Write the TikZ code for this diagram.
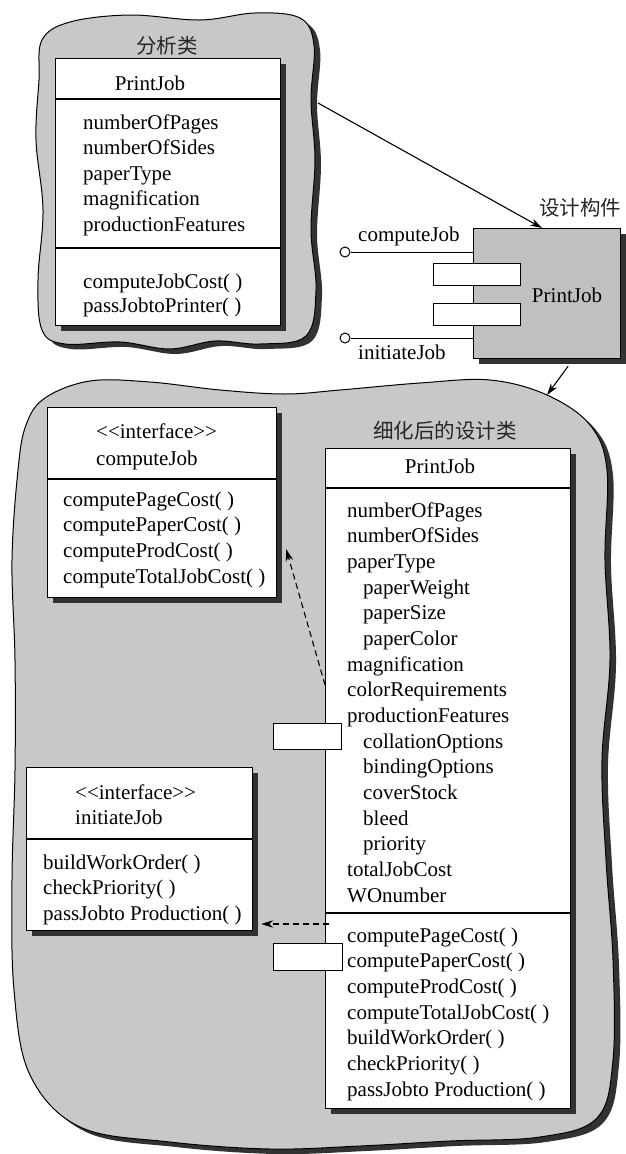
\documentclass[tikz,border=0pt]{standalone}
\usepackage{fontspec}
\setmainfont{Liberation Serif}
\newfontfamily\cjk{Noto Sans CJK SC}
\usetikzlibrary{arrows.meta,calc,shadows}
\definecolor{blobgray}{RGB}{200,200,200}
\definecolor{compgray}{RGB}{192,192,192}
\definecolor{shadowgray}{RGB}{50,50,50}
\newcommand\myind{\hspace*{16pt}}
\newcommand\stereo{<\kern0pt<interface>\kern0pt>}
\tikzset{
  blob/.style={fill=blobgray, draw=black, line width=1pt},
  blobshadow/.style={fill=shadowgray},
  boxshadow/.style={drop shadow={shadow xshift=5pt, shadow yshift=-5pt, fill=shadowgray, opacity=1}},
  classbox/.style={draw=black, fill=white, line width=1.2pt, inner sep=0pt, anchor=north west, boxshadow},
  portbox/.style={draw=black, fill=white, line width=1.1pt, inner sep=0pt, anchor=north west},
  txt/.style={anchor=base west, inner sep=0pt, font=\fontsize{21}{25}\selectfont},
  ctxt/.style={anchor=base, inner sep=0pt, font=\fontsize{21}{25}\selectfont},
  cn/.style={anchor=base, inner sep=0pt, font=\cjk\fontsize{20.5}{25}\selectfont, text=black!85},
  conn/.style={line width=1.1pt, -{Stealth[length=12pt,width=7.5pt]}},
  dconn/.style={line width=1.1pt, dash pattern=on 6pt off 4pt, -{Stealth[length=12pt,width=7.5pt]}},
  lolli/.style={circle, draw=black, fill=white, line width=1pt, minimum size=10pt, inner sep=0pt},
  sep/.style={line width=1.2pt}
}
\begin{document}
\begin{tikzpicture}[x=1pt,y=-1pt]
\useasboundingbox (0,0) rectangle (625,1154);

% ---------- top blob (analysis) ----------
\def\topblob{plot[smooth cycle, tension=0.6] coordinates {
 (42,40) (70,22) (130,15) (200,20) (255,13) (300,18) (314,45) (311,100) (315,160) (311,230) (316,290) (306,336) (260,344) (215,341) (170,349) (120,342) (65,344) (42,330) (38,280) (43,210) (36,140) (39,80)}}
\fill[blobshadow, shift={(6,5)}] \topblob;
\draw[blob] \topblob;

% ---------- lower blob (refined design) ----------
\def\lowblob{plot[smooth cycle, tension=0.6] coordinates {
 (45,398) (90,381) (150,382) (220,390) (285,394) (340,390) (420,383) (490,380) (547,395) (590,425) (607,470) (605,560) (610,660) (602,760) (606,860) (613,960) (613,1060) (597,1118) (540,1137) (450,1141) (360,1146) (270,1149) (170,1142) (80,1127) (30,1075) (14,990) (12,880) (15,770) (15,660) (12,560) (18,470) (26,425)}}
\fill[blobshadow, shift={(6,5)}] \lowblob;
\draw[blob] \lowblob;

% ---------- analysis class ----------
\node[cn] (antitle) at (167,53) {分析类};
\node[classbox, minimum width=225pt, minimum height=267pt] (an) at (55,58) {};
\draw[sep] ([yshift=-41pt]an.north west) -- ([yshift=-41pt]an.north east);
\draw[sep] ([yshift=-190pt]an.north west) -- ([yshift=-190pt]an.north east);
\node[ctxt] (anname) at (150,90) {PrintJob};
\foreach \t [count=\i] in {numberOfPages, numberOfSides, paperType, magnification, productionFeatures}
  \node[txt] (anat\i) at (83,{129+25.5*(\i-1)}) {\t};
\foreach \t [count=\i] in {computeJobCost( ), passJobtoPrinter( )}
  \node[txt] (anop\i) at (83,{288+24.5*(\i-1)}) {\t};

% ---------- design component ----------
\node[cn, anchor=base west] (comptitle) at (539,215) {设计构件};
\node[draw=black, fill=compgray, line width=1.2pt, inner sep=0pt, anchor=north west,
      minimum width=147pt, minimum height=130pt, boxshadow] (comp) at (473,228) {};
\node[ctxt] (compname) at (567,302) {PrintJob};
\node[portbox, minimum width=87pt, minimum height=22pt] (cp1) at (433,263) {};
\node[portbox, minimum width=87pt, minimum height=22pt] (cp2) at (433,303) {};
\node[lolli] (l1) at (345,252) {};
\node[lolli] (l2) at (345,338) {};
\draw[line width=1pt] (l1.east) -- (l1 -| comp.west);
\draw[line width=1pt] (l2.east) -- (l2 -| comp.west);
\node[txt] (l1lab) at (358,241) {computeJob};
\node[txt] (l2lab) at (358,359) {initiateJob};

% arrows between levels
\coordinate (topedge) at (318,103);
\draw[conn] (topedge) -- ($(comp.north west)+(69,0)$);
\coordinate (lowedge) at (547,395);
\draw[conn] ($(comp.south)+(21,7)$) -- (lowedge);

% ---------- refined design ----------
\node[cn] (dtitle) at (445,438) {细化后的设计类};

% interface computeJob
\node[classbox, minimum width=229pt, minimum height=190pt] (cj) at (47,407) {};
\draw[sep] ([yshift=-72pt]cj.north west) -- ([yshift=-72pt]cj.north east);
\node[txt] (cjst) at (96,438) {\stereo};
\node[txt] (cjname) at (96,465) {computeJob};
\foreach \t [count=\i] in {computePageCost( ), computePaperCost( ), computeProdCost( ), computeTotalJobCost( )}
  \node[txt] (cjop\i) at (63,{506+25.7*(\i-1)}) {\t};

% interface initiateJob
\node[classbox, minimum width=226pt, minimum height=163pt] (ij) at (26,767) {};
\draw[sep] ([yshift=-72pt]ij.north west) -- ([yshift=-72pt]ij.north east);
\node[txt] (ijst) at (75,799) {\stereo};
\node[txt] (ijname) at (75,824) {initiateJob};
\foreach \t [count=\i] in {buildWorkOrder( ), checkPriority( ), passJobto Production( )}
  \node[txt] (ijop\i) at (43,{869+25.6*(\i-1)}) {\t};

% refined PrintJob
\node[classbox, minimum width=245pt, minimum height=660pt] (pj) at (325,448) {};
\draw[sep] ([yshift=-40pt]pj.north west) -- ([yshift=-40pt]pj.north east);
\draw[sep] ([yshift=-465pt]pj.north west) -- ([yshift=-465pt]pj.north east);
\node[ctxt] (pjname) at (440,473) {PrintJob};
\foreach \t [count=\i] in {numberOfPages, numberOfSides, paperType, \myind paperWeight, \myind paperSize, \myind paperColor, magnification, colorRequirements, productionFeatures, \myind collationOptions, \myind bindingOptions, \myind coverStock, \myind bleed, \myind priority, totalJobCost, WOnumber}
  \node[txt] (pjat\i) at (347,{517+25.67*(\i-1)}) {\t};
\foreach \t [count=\i] in {computePageCost( ), computePaperCost( ), computeProdCost( ), computeTotalJobCost( ), buildWorkOrder( ), checkPriority( ), passJobto Production( )}
  \node[txt] (pjop\i) at (347,{942+25.67*(\i-1)}) {\t};
\node[portbox, minimum width=68pt, minimum height=26pt] (pp1) at (273,723) {};
\node[portbox, minimum width=69pt, minimum height=27pt] (pp2) at (273,943) {};

% dependency arrows
\coordinate (d1s) at (pj.west |- 0,685);
\draw[dconn] (d1s) -- ($(cj.south east)+(9,-49)$);
\coordinate (d2s) at ($(pj.west |- 0,924)+(4,0)$);
\draw[dconn] (d2s) -- ($(ij.east |- d2s)+(8,0)$);
\end{tikzpicture}
\end{document}
